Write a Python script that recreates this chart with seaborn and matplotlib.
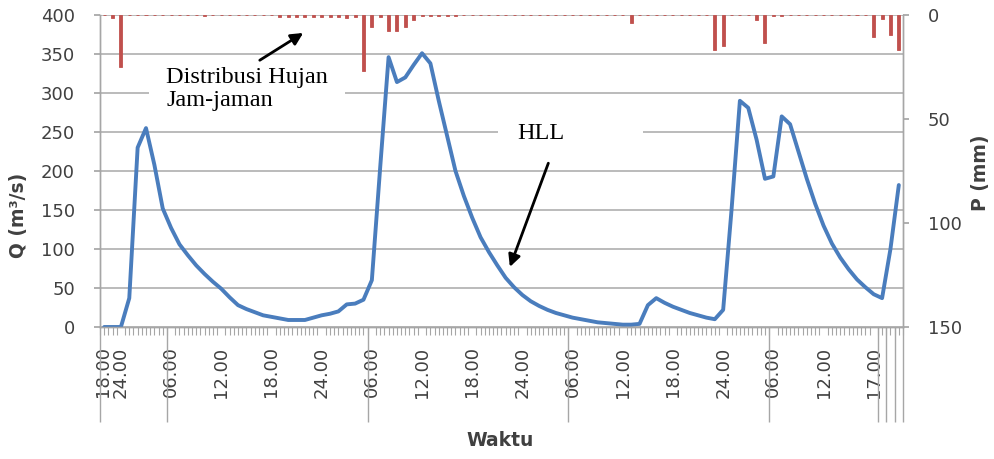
import numpy as np
import pandas as pd
import matplotlib
matplotlib.use("Agg")
import matplotlib.pyplot as plt
from matplotlib.patches import Rectangle
import seaborn as sns

# Hourly discharge Q (m3/s), one value per hour step
discharge = [0, 0, 0, 37, 230, 255, 208, 152, 127, 106,
             92, 79, 68, 58, 49, 38, 28, 23, 19, 15,
             13, 11, 9, 9, 9, 12, 15, 17, 20, 29,
             30, 35, 60, 205, 346, 314, 320, 336, 351, 338,
             290, 245, 200, 168, 140, 115, 96, 79, 63, 51,
             41, 33, 27, 22, 18, 15, 12, 10, 8, 6,
             5, 4, 3, 3, 4, 28, 37, 31, 26, 22,
             18, 15, 12, 10, 22, 150, 290, 281, 240, 190,
             193, 270, 260, 225, 190, 158, 130, 107, 89, 74,
             61, 51, 42, 37, 100, 182]

# Hourly rainfall P (mm)
rainfall = [0, 1.5, 25, 0, 0, 0, 0, 0, 0, 0,
            0, 0, 0.5, 0, 0, 0, 0, 0, 0, 0,
            0, 0.8, 0.8, 0.8, 0.8, 0.8, 1.0, 1.0, 1.2, 1.5,
            1.2, 27, 6, 1, 7.5, 7.5, 6, 2.5, 0.7, 0.7,
            0.7, 0.7, 0.7, 0, 0, 0, 0, 0, 0, 0,
            0, 0, 0, 0, 0, 0, 0, 0, 0, 0,
            0, 0, 0, 4, 0, 0, 0, 0, 0, 0,
            0, 0, 0, 17, 15, 0, 0, 0, 2.5, 13.5,
            0.7, 0.7, 0, 0, 0, 0, 0, 0, 0, 0,
            0, 0, 10.5, 2, 9.5, 17]

tick_labels = ["18.00", "24.00", "06.00", "12.00", "18.00", "24.00",
               "06.00", "12.00", "18.00", "24.00", "06.00", "12.00",
               "18.00", "24.00", "06.00", "12.00", "17.00"]
tick_steps = [-0.2, 2, 8, 14, 20, 26, 32, 38, 44, 50, 56, 62, 68, 74, 80, 86, 92]
day_breaks = [0, 8, 32, 56, 80, 93, 94, 95, 96]

sns.set_theme(style="white")
plt.rcParams["font.family"] = ["DejaVu Sans"]

steps = np.arange(len(discharge))
df = pd.DataFrame({"jam": steps, "Q": discharge, "P": rainfall})

W, H = 995, 459
fig = plt.figure(figsize=(W / 100, H / 100), dpi=100)
ax = fig.add_axes([100 / W, 132 / H, 803 / W, 312 / H])
ax2 = ax.twinx()

axis_grey = "#a6a6a6"
text_grey = "#404040"

# discharge hydrograph
sns.lineplot(data=df, x="jam", y="Q", ax=ax, color="#4a7dbd",
             linewidth=2.8, zorder=4)

# hourly rainfall hanging from the top
ax2.bar(df["jam"], df["P"], width=0.36, color="#c0504d",
        edgecolor="#c0504d", linewidth=0.6, zorder=3)

ax.set_xlim(-0.5, len(discharge) - 0.5)
ax.set_ylim(0, 400)
ax2.set_ylim(150, 0)

ax.set_yticks(range(0, 401, 50))
ax.grid(axis="y", color="#b5b5b5", linewidth=1.3)
ax.grid(axis="x", visible=False)
ax.set_axisbelow(True)
ax2.set_yticks([0, 50, 100, 150])
ax2.grid(False)

ax.set_xticks(tick_steps)
ax.set_xticklabels(tick_labels, rotation=90, fontsize=13, color=text_grey)
ax.set_xticks(np.arange(-0.5, len(discharge), 0.5), minor=True)
ax.tick_params(axis="x", which="major", length=0, pad=14)
ax.tick_params(axis="x", which="minor", bottom=True, length=6,
               width=0.8, color=axis_grey, direction="out")
ax.tick_params(axis="y", left=True, length=4, color=axis_grey,
               labelsize=13, labelcolor=text_grey, pad=14)
ax2.tick_params(axis="y", right=True, length=4, color=axis_grey,
                labelsize=13, labelcolor=text_grey, pad=14)

for a in (ax, ax2):
    a.spines["top"].set_visible(False)
    for s in ("left", "right", "bottom"):
        a.spines[s].set_color(axis_grey)
        a.spines[s].set_linewidth(1.0)
ax.set_xlabel("")
ax.set_ylabel("")
ax2.set_ylabel("")

# long separators under the time axis
ax.vlines([b - 0.5 for b in day_breaks], -0.305, 0,
          transform=ax.get_xaxis_transform(), clip_on=False,
          color=axis_grey, linewidth=1.0)

# axis titles
fig.text(18.5 / W, 1 - 215 / H, "Q (m³/s)", rotation=90, ha="center",
         va="center", fontsize=13.5, fontweight="bold", color=text_grey)
fig.text(981 / W, 1 - 173 / H, "P (mm)", rotation=90, ha="center",
         va="center", fontsize=13.5, fontweight="bold", color=text_grey)
fig.text(500 / W, 1 - 441 / H, "Waktu", ha="center", va="center",
         fontsize=13.5, fontweight="bold", color=text_grey)

# annotations with white boxes
ax.add_patch(Rectangle((5.3, 262), 23.5, 83, facecolor="white",
                       edgecolor="none", zorder=2))
ax.add_patch(Rectangle((47.1, 241), 17.3, 25, facecolor="white",
                       edgecolor="none", zorder=2))
serif = ["Liberation Serif", "DejaVu Serif"]
ax.text(7.4, 305, "Distribusi Hujan\nJam-jaman", family=serif,
        fontsize=17.5, color="black", ha="left", va="center",
        linespacing=1.15, zorder=5)
ax.text(52.2, 248, "HLL", family=serif, fontsize=17.5, color="black",
        ha="center", va="center", zorder=5)

arrow = dict(arrowstyle="-|>", color="black", lw=2.0, mutation_scale=18,
             shrinkA=0, shrinkB=0)
ax.annotate("", xy=(23.8, 377), xytext=(18.6, 342), arrowprops=arrow,
            zorder=6, annotation_clip=False)
ax.annotate("", xy=(48.5, 77), xytext=(53.1, 210), arrowprops=arrow,
            zorder=6, annotation_clip=False)

fig.savefig("out.png", dpi=100)
